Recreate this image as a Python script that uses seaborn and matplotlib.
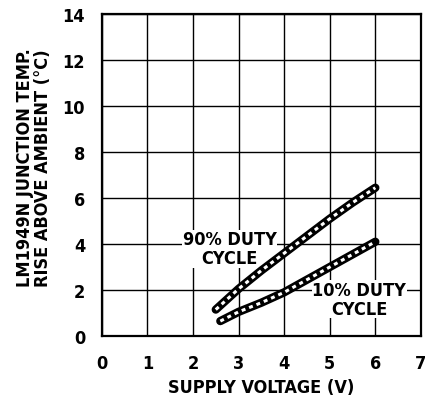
import numpy as np
import pandas as pd
import matplotlib
matplotlib.use("Agg")
import matplotlib.pyplot as plt
import seaborn as sns

# ==========================================
# Data
# ==========================================

v_90 = [2.5, 3.0, 3.5, 4.0, 4.5, 5.0, 5.5, 6.0]
t_90 = [1.15, 2.05, 2.85, 3.6, 4.35, 5.1, 5.8, 6.45]

v_10 = [2.6, 3.0, 3.5, 4.0, 4.5, 5.0, 5.5, 6.0]
t_10 = [0.65, 1.05, 1.45, 1.9, 2.45, 3.0, 3.55, 4.1]

x_ticks = [0, 1, 2, 3, 4, 5, 6, 7]
y_ticks = [0, 2, 4, 6, 8, 10, 12, 14]

df = pd.concat([
    pd.DataFrame({"V": v_90, "T": t_90, "duty": "90%"}),
    pd.DataFrame({"V": v_10, "T": t_10, "duty": "10%"}),
])

# ==========================================
# Style
# ==========================================

sns.set_style("white", {"text.color": "black", "axes.labelcolor": "black",
                        "xtick.color": "black", "ytick.color": "black"})
plt.rcParams["font.family"] = ["DejaVu Sans"]
plt.rcParams["font.stretch"] = "condensed"
plt.rcParams["font.weight"] = "bold"
plt.rcParams["axes.labelweight"] = "bold"

fig = plt.figure(figsize=(4.26, 4.10), dpi=100)
ax = fig.add_axes([0.239, 0.178, 0.749, 0.785])

# thick hatched-looking curves: black core + white dashes
sns.lineplot(data=df, x="V", y="T", units="duty", estimator=None,
             color="black", linewidth=6, ax=ax, zorder=6)
sns.lineplot(data=df, x="V", y="T", units="duty", estimator=None,
             color="white", linewidth=2.2, ax=ax, zorder=7)
for line in ax.get_lines()[2:]:
    line.set_dashes([1.3, 1.3])
    line.set_dash_capstyle("butt")

ax.set_xlim(0, 7)
ax.set_ylim(0, 14)
ax.set_xticks(x_ticks)
ax.set_yticks(y_ticks)
ax.set_xticklabels([str(t) for t in x_ticks], fontsize=13)
ax.set_yticklabels([str(t) for t in y_ticks], fontsize=13)
ax.tick_params(axis="x", length=0, pad=13)
ax.tick_params(axis="y", length=0, pad=12)

ax.grid(True, color="black", linewidth=1)
for s in ax.spines.values():
    s.set_color("black")
    s.set_linewidth(1.6)

ax.set_xlabel("SUPPLY VOLTAGE (V)", fontsize=13, labelpad=4)
ax.set_ylabel("LM1949N JUNCTION TEMP.\nRISE ABOVE AMBIENT (°C)",
              fontsize=13, linespacing=1.0)
ax.yaxis.set_label_coords(-0.155, 0.525)

ax.text(2.8, 3.8, "90% DUTY\nCYCLE", ha="center", va="center",
        fontsize=13, linespacing=1.05, zorder=5,
        bbox=dict(facecolor="white", edgecolor="none", pad=0.5))
ax.text(5.65, 1.6, "10% DUTY\nCYCLE", ha="center", va="center",
        fontsize=13, linespacing=1.05, zorder=5,
        bbox=dict(facecolor="white", edgecolor="none", pad=0.5))

plt.savefig("out.png", dpi=100)
